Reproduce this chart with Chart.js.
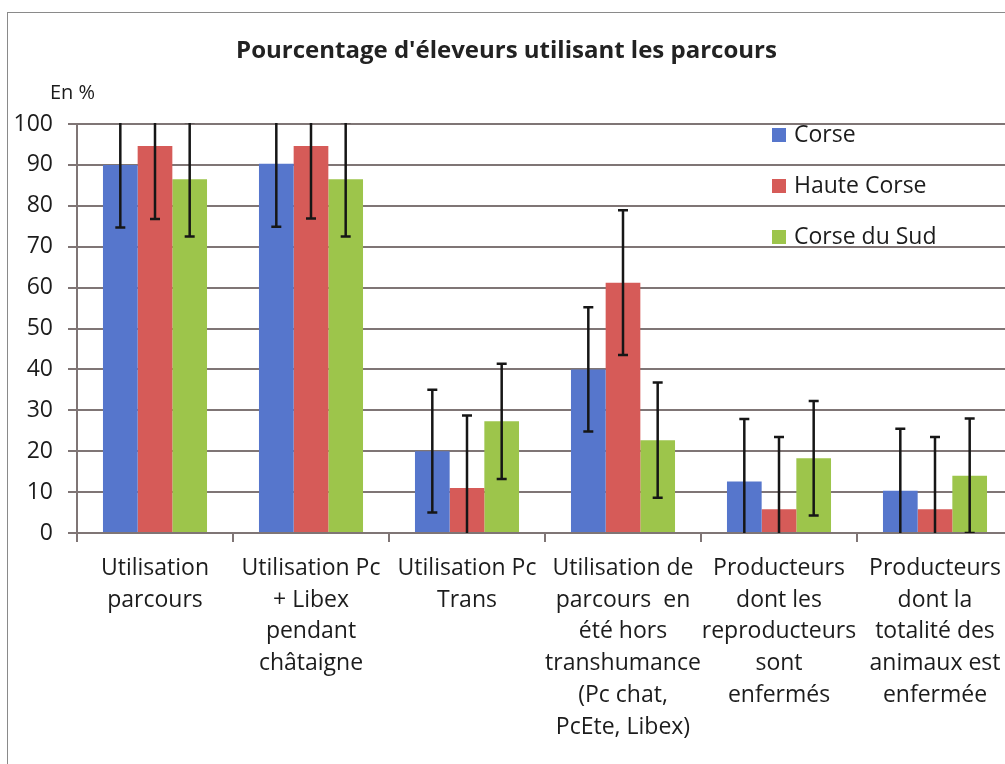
<!DOCTYPE html>
<html>
<head>
<meta charset="utf-8">
<title>Pourcentage d'éleveurs utilisant les parcours</title>
<script src="https://cdn.jsdelivr.net/npm/chart.js@4"></script>
<style>
    html, body { margin: 0; padding: 0; background: #fff; overflow: hidden; }
    #wrap { position: relative; width: 1005px; height: 764px; overflow: hidden; }
    #frame { position: absolute; left: 7px; top: 12px; width: 1100px; height: 900px; border: 1px solid #8a8a8a; pointer-events: none; }
    #chart-box { position: absolute; left: 0; top: 0; width: 1030px; height: 764px; }
</style>
</head>
<body>
<div id="wrap">
    <div id="chart-box"><canvas id="chart"></canvas></div>
    <div id="frame"></div>
</div>
<script>
// categories (multi-line labels as in the original)
const categories = [
    ['Utilisation', 'parcours'],
    ['Utilisation Pc', '+ Libex', 'pendant', 'châtaigne'],
    ['Utilisation Pc', 'Trans'],
    ['Utilisation de', 'parcours  en', 'été hors', 'transhumance', '(Pc chat,', 'PcEte, Libex)'],
    ['Producteurs', 'dont les', 'reproducteurs', 'sont', 'enfermés'],
    ['Producteurs', 'dont la', 'totalité des', 'animaux est', 'enfermée']
];

const seriesNames = ['Corse', 'Haute Corse', 'Corse du Sud'];

// values in %
const corse = [90, 90.3, 20, 40, 12.6, 10.3];
const hauteCorse = [94.6, 94.6, 11, 61.2, 5.8, 5.8];
const corseDuSud = [86.5, 86.5, 27.3, 22.7, 18.3, 14];

// error bar half widths, read from the whiskers
const corseErr = [15.3, 15.4, 15, 15.2, 15.3, 15.2];
const hauteCorseErr = [17.8, 17.7, 17.7, 17.7, 17.7, 17.7];
const corseDuSudErr = [14, 14, 14.1, 14.1, 14, 14];

const yTicks = [0, 10, 20, 30, 40, 50, 60, 70, 80, 90, 100];

const colors = ['#5676cc', '#d65b58', '#9dc54b'];
const fontFamily = "'Open Sans', 'DejaVu Sans', sans-serif";
const textColor = '#1c1c1c';
const gridColor = '#7f7575';

// draws the error bars from the datasets' err arrays, clipped to the plot
const errorBars = {
    id: 'errorBars',
    afterDatasetsDraw(chart) {
        const ctx = chart.ctx;
        const area = chart.chartArea;
        const y = chart.scales.y;
        ctx.save();
        ctx.beginPath();
        ctx.rect(area.left, area.top - 1, area.right - area.left, area.bottom - area.top + 1);
        ctx.clip();
        ctx.strokeStyle = '#161616';
        ctx.lineWidth = 2.5;
        chart.data.datasets.forEach(function(ds, i) {
            const meta = chart.getDatasetMeta(i);
            meta.data.forEach(function(bar, j) {
                const v = ds.data[j];
                const e = ds.err[j];
                const top = y.getPixelForValue(v + e);
                const bot = y.getPixelForValue(v - e);
                ctx.beginPath();
                ctx.moveTo(bar.x, top);
                ctx.lineTo(bar.x, bot);
                ctx.moveTo(bar.x - 5, top);
                ctx.lineTo(bar.x + 5, top);
                ctx.moveTo(bar.x - 5, bot);
                ctx.lineTo(bar.x + 5, bot);
                ctx.stroke();
            });
        });
        ctx.restore();
    }
};

// legend inside the plot area and the "En %" unit label
const extras = {
    id: 'extras',
    afterDraw(chart) {
        const ctx = chart.ctx;
        const area = chart.chartArea;
        ctx.save();
        ctx.fillStyle = textColor;
        ctx.font = '20px ' + fontFamily;
        ctx.textBaseline = 'middle';
        ctx.textAlign = 'left';
        ctx.fillText('En %', area.left - 27, area.top - 31);

        ctx.font = '23px ' + fontFamily;
        const lx = area.right - 241;
        chart.data.datasets.forEach(function(ds, i) {
            const cy = area.top + 11 + i * 51;
            ctx.fillStyle = ds.backgroundColor;
            ctx.fillRect(lx, cy - 7, 14, 14);
            ctx.fillStyle = textColor;
            ctx.fillText(ds.label, lx + 22, cy);
        });
        ctx.restore();
    }
};

const ctx = document.getElementById('chart').getContext('2d');
const chart = new Chart(ctx, {
    type: 'bar',
    data: {
        labels: categories,
        datasets: [
            { label: seriesNames[0], data: corse, err: corseErr, backgroundColor: colors[0] },
            { label: seriesNames[1], data: hauteCorse, err: hauteCorseErr, backgroundColor: colors[1] },
            { label: seriesNames[2], data: corseDuSud, err: corseDuSudErr, backgroundColor: colors[2] }
        ]
    },
    options: {
        responsive: true,
        maintainAspectRatio: false,
        animation: false,
        datasets: {
            bar: { categoryPercentage: 0.667, barPercentage: 1.0 }
        },
        layout: { padding: { left: 0, right: 17, top: 0, bottom: 0 } },
        plugins: {
            legend: { display: false },
            tooltip: { enabled: false },
            title: {
                display: true,
                text: "Pourcentage d'éleveurs utilisant les parcours",
                color: '#222',
                font: { family: fontFamily, size: 24, weight: 'bold', lineHeight: 1.2 },
                padding: { top: 37, bottom: 58.2 }
            }
        },
        scales: {
            x: {
                grid: { drawOnChartArea: false, drawTicks: true, tickLength: 9, color: gridColor, lineWidth: 2 },
                border: { color: gridColor, width: 2 },
                ticks: {
                    color: textColor,
                    autoSkip: false,
                    maxRotation: 0,
                    padding: 10,
                    font: { family: fontFamily, size: 23, lineHeight: 1.39 }
                },
                afterFit(scale) { scale.height = 231; }
            },
            y: {
                min: 0,
                max: 100,
                afterBuildTicks(scale) { scale.ticks = yTicks.map(function(v) { return { value: v }; }); },
                grid: { color: gridColor, lineWidth: 2, tickLength: 9 },
                border: { color: gridColor, width: 2 },
                ticks: {
                    color: textColor,
                    padding: 15,
                    font: { family: fontFamily, size: 23 }
                },
                afterFit(scale) { scale.width = 77; }
            }
        }
    },
    plugins: [errorBars, extras]
});
</script>
</body>
</html>
